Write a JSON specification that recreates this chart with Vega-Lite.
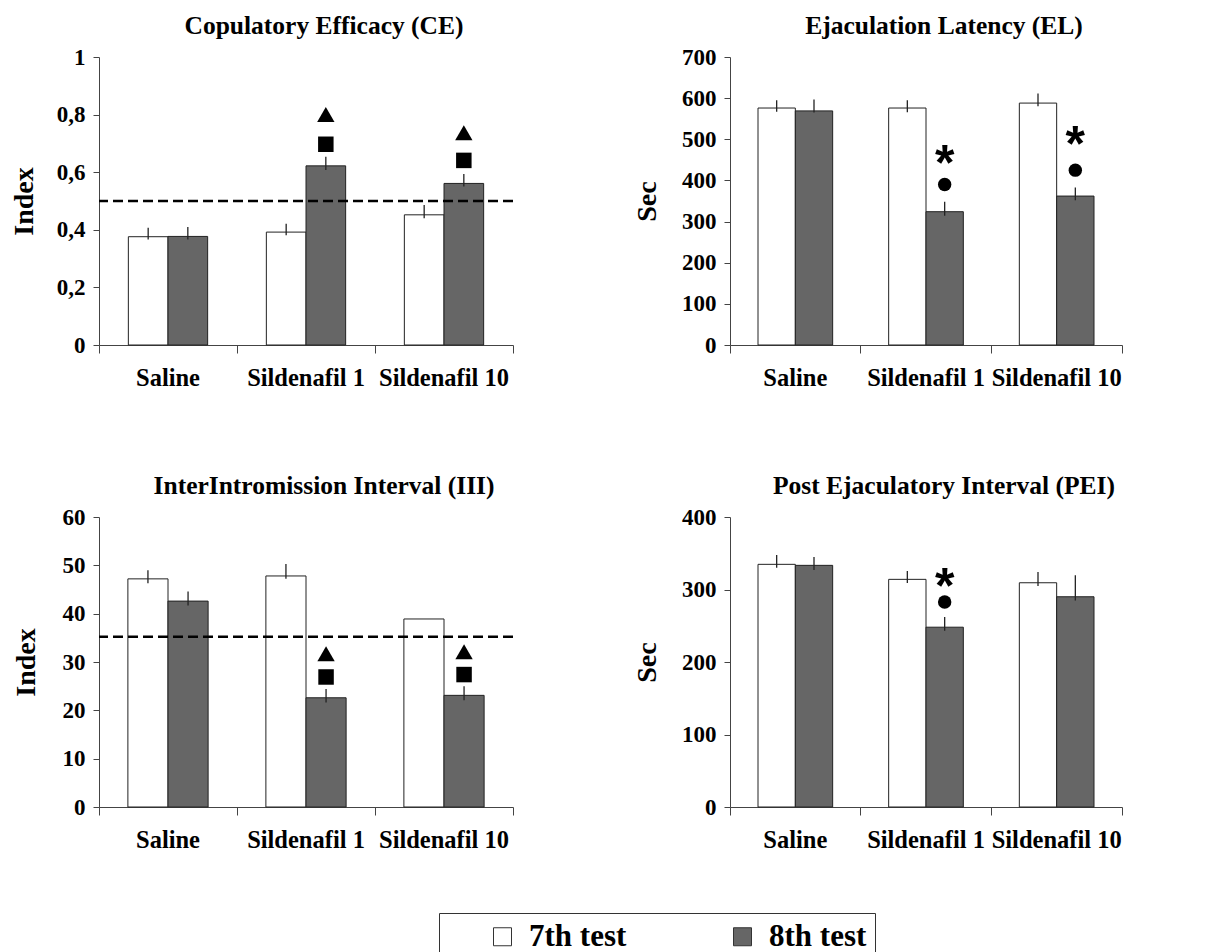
{
  "$schema": "https://vega.github.io/schema/vega-lite/v6.json",
  "padding": {"left": 10, "top": 13, "right": 5, "bottom": 0},
  "background": "white",
  "datasets": {
    "bars": [
      {"panel": "CE", "cat": "Saline", "test": "7th test", "value": 0.376, "lo": 0.366, "hi": 0.407},
      {"panel": "CE", "cat": "Saline", "test": "8th test", "value": 0.377, "lo": 0.366, "hi": 0.41},
      {"panel": "CE", "cat": "Sildenafil 1", "test": "7th test", "value": 0.392, "lo": 0.381, "hi": 0.421},
      {"panel": "CE", "cat": "Sildenafil 1", "test": "8th test", "value": 0.622, "lo": 0.608, "hi": 0.654},
      {"panel": "CE", "cat": "Sildenafil 10", "test": "7th test", "value": 0.452, "lo": 0.44, "hi": 0.486},
      {"panel": "CE", "cat": "Sildenafil 10", "test": "8th test", "value": 0.561, "lo": 0.55, "hi": 0.594},
      {"panel": "EL", "cat": "Saline", "test": "7th test", "value": 576, "lo": 567, "hi": 595},
      {"panel": "EL", "cat": "Saline", "test": "8th test", "value": 569, "lo": 565, "hi": 597},
      {"panel": "EL", "cat": "Sildenafil 1", "test": "7th test", "value": 576, "lo": 566, "hi": 595},
      {"panel": "EL", "cat": "Sildenafil 1", "test": "8th test", "value": 324, "lo": 314, "hi": 348},
      {"panel": "EL", "cat": "Sildenafil 10", "test": "7th test", "value": 588, "lo": 580, "hi": 611},
      {"panel": "EL", "cat": "Sildenafil 10", "test": "8th test", "value": 362, "lo": 352, "hi": 383},
      {"panel": "III", "cat": "Saline", "test": "7th test", "value": 47.2, "lo": 46.3, "hi": 49.0},
      {"panel": "III", "cat": "Saline", "test": "8th test", "value": 42.6, "lo": 41.7, "hi": 44.6},
      {"panel": "III", "cat": "Sildenafil 1", "test": "7th test", "value": 47.8, "lo": 47.2, "hi": 50.3},
      {"panel": "III", "cat": "Sildenafil 1", "test": "8th test", "value": 22.6, "lo": 21.6, "hi": 24.4},
      {"panel": "III", "cat": "Sildenafil 10", "test": "7th test", "value": 38.9, "lo": 38.9, "hi": 38.9},
      {"panel": "III", "cat": "Sildenafil 10", "test": "8th test", "value": 23.1, "lo": 22.1, "hi": 25.0},
      {"panel": "PEI", "cat": "Saline", "test": "7th test", "value": 334.7, "lo": 330, "hi": 347.5},
      {"panel": "PEI", "cat": "Saline", "test": "8th test", "value": 333.3, "lo": 327, "hi": 344.8},
      {"panel": "PEI", "cat": "Sildenafil 1", "test": "7th test", "value": 314, "lo": 309, "hi": 325.4},
      {"panel": "PEI", "cat": "Sildenafil 1", "test": "8th test", "value": 248, "lo": 243, "hi": 262},
      {"panel": "PEI", "cat": "Sildenafil 10", "test": "7th test", "value": 309.3, "lo": 305, "hi": 324},
      {"panel": "PEI", "cat": "Sildenafil 10", "test": "8th test", "value": 290, "lo": 285, "hi": 319.5}
    ],
    "refs": [
      {"panel": "CE", "y": 0.5},
      {"panel": "III", "y": 35.2}
    ],
    "sigs": [
      {"panel": "CE", "cat": "Sildenafil 1", "test": "8th test", "y": 0.80, "sig": "triangle"},
      {"panel": "CE", "cat": "Sildenafil 1", "test": "8th test", "y": 0.697, "sig": "square"},
      {"panel": "CE", "cat": "Sildenafil 10", "test": "8th test", "y": 0.737, "sig": "triangle"},
      {"panel": "CE", "cat": "Sildenafil 10", "test": "8th test", "y": 0.641, "sig": "square"},
      {"panel": "EL", "cat": "Sildenafil 1", "test": "8th test", "y": 470, "sig": "asterisk"},
      {"panel": "EL", "cat": "Sildenafil 1", "test": "8th test", "y": 390, "sig": "circle"},
      {"panel": "EL", "cat": "Sildenafil 10", "test": "8th test", "y": 515, "sig": "asterisk"},
      {"panel": "EL", "cat": "Sildenafil 10", "test": "8th test", "y": 425, "sig": "circle"},
      {"panel": "III", "cat": "Sildenafil 1", "test": "8th test", "y": 31.7, "sig": "triangle"},
      {"panel": "III", "cat": "Sildenafil 1", "test": "8th test", "y": 26.9, "sig": "square"},
      {"panel": "III", "cat": "Sildenafil 10", "test": "8th test", "y": 32.1, "sig": "triangle"},
      {"panel": "III", "cat": "Sildenafil 10", "test": "8th test", "y": 27.4, "sig": "square"},
      {"panel": "PEI", "cat": "Sildenafil 1", "test": "8th test", "y": 320, "sig": "asterisk"},
      {"panel": "PEI", "cat": "Sildenafil 1", "test": "8th test", "y": 282.7, "sig": "circle"}
    ]
  },
  "columns": 2,
  "spacing": {"row": 172, "column": 217},
  "bounds": "flush",
  "resolve": {"scale": {"x": "independent", "y": "independent", "xOffset": "independent"}},
  "concat": [
    {
      "width": 414, "height": 288,
      "title": {"text": "Copulatory Efficacy (CE)", "dx": 18},
      "layer": [
        {
          "data": {"name": "bars"},
          "transform": [{"filter": "datum.panel == 'CE'"}],
          "mark": {"type": "bar", "stroke": "#222", "strokeWidth": 1},
          "encoding": {
            "x": {"field": "cat", "type": "nominal", "sort": ["Saline", "Sildenafil 1", "Sildenafil 10"], "scale": {"paddingInner": 0, "paddingOuter": 0},
                  "axis": {"title": null, "labelAngle": 0, "bandPosition": 1, "tickExtra": true, "tickSize": 8, "labelPadding": 13, "labelOverlap": false, "labelBound": false, "labelFlush": false}},
            "xOffset": {"field": "test", "type": "nominal", "scale": {"paddingInner": 0, "paddingOuter": 0.74}},
            "y": {"field": "value", "type": "quantitative", "scale": {"domain": [0, 1], "nice": false},
                  "axis": {"title": "Index", "values": [0, 0.2, 0.4, 0.6, 0.8, 1], "format": ".1~f", "labelExpr": "replace(datum.label, '.', ',')", "tickSize": 6, "labelPadding": 8, "titlePadding": 18}},
            "color": {"field": "test", "type": "nominal", "scale": {"domain": ["7th test", "8th test"], "range": ["#ffffff", "#666666"]},
                      "legend": {"title": " ", "titleFontSize": 1, "titleOrient": "left", "titlePadding": 40, "orient": "none", "legendX": 340, "legendY": 856, "direction": "horizontal", "symbolType": "square", "symbolSize": 324, "symbolStrokeColor": "#333", "symbolStrokeWidth": 1, "symbolOpacity": 1, "labelFont": "Liberation Serif", "labelFontSize": 31, "labelFontWeight": "bold", "labelColor": "#000", "labelOffset": 11, "columnPadding": 100, "strokeColor": "#333", "padding": 8}}
          }
        },
        {
          "data": {"name": "bars"},
          "transform": [{"filter": "datum.panel == 'CE'"}],
          "mark": {"type": "rule", "color": "#222", "strokeWidth": 1.3},
          "encoding": {
            "x": {"field": "cat", "type": "nominal", "sort": ["Saline", "Sildenafil 1", "Sildenafil 10"]},
            "xOffset": {"field": "test", "type": "nominal"},
            "y": {"field": "lo", "type": "quantitative"},
            "y2": {"field": "hi"}
          }
        },
        {
          "data": {"name": "refs"},
          "transform": [{"filter": "datum.panel == 'CE'"}],
          "mark": {"type": "rule", "color": "#000", "strokeWidth": 2.5, "strokeDash": [10, 5]},
          "encoding": {"y": {"field": "y", "type": "quantitative"}}
        },
        {
          "data": {"name": "sigs"},
          "transform": [{"filter": "datum.panel == 'CE' && datum.sig != 'asterisk'"}],
          "mark": {"type": "point", "filled": true, "color": "#000", "opacity": 1, "strokeWidth": 0},
          "encoding": {
            "x": {"field": "cat", "type": "nominal", "sort": ["Saline", "Sildenafil 1", "Sildenafil 10"]},
            "xOffset": {"field": "test", "type": "nominal"},
            "y": {"field": "y", "type": "quantitative"},
            "shape": {"field": "sig", "type": "nominal", "scale": {"domain": ["triangle", "square", "circle"], "range": ["triangle-up", "square", "circle"]}, "legend": null},
            "size": {"field": "sig", "type": "nominal", "scale": {"domain": ["triangle", "square", "circle"], "range": [300, 180, 190]}, "legend": null}
          }
        }
      ]
    },
    {
      "width": 392, "height": 288,
      "title": {"text": "Ejaculation Latency (EL)", "dx": 18},
      "layer": [
        {
          "data": {"name": "bars"},
          "transform": [{"filter": "datum.panel == 'EL'"}],
          "mark": {"type": "bar", "stroke": "#222", "strokeWidth": 1},
          "encoding": {
            "x": {"field": "cat", "type": "nominal", "sort": ["Saline", "Sildenafil 1", "Sildenafil 10"], "scale": {"paddingInner": 0, "paddingOuter": 0},
                  "axis": {"title": null, "labelAngle": 0, "bandPosition": 1, "tickExtra": true, "tickSize": 8, "labelPadding": 13, "labelOverlap": false, "labelBound": false, "labelFlush": false}},
            "xOffset": {"field": "test", "type": "nominal", "scale": {"paddingInner": 0, "paddingOuter": 0.75}},
            "y": {"field": "value", "type": "quantitative", "scale": {"domain": [0, 700], "nice": false},
                  "axis": {"title": "Sec", "values": [0, 100, 200, 300, 400, 500, 600, 700], "tickSize": 6, "labelPadding": 8, "titlePadding": 20}},
            "color": {"field": "test", "type": "nominal", "scale": {"domain": ["7th test", "8th test"], "range": ["#ffffff", "#666666"]},
                      "legend": {"title": " ", "titleFontSize": 1, "titleOrient": "left", "titlePadding": 40, "orient": "none", "legendX": 340, "legendY": 856, "direction": "horizontal", "symbolType": "square", "symbolSize": 324, "symbolStrokeColor": "#333", "symbolStrokeWidth": 1, "symbolOpacity": 1, "labelFont": "Liberation Serif", "labelFontSize": 31, "labelFontWeight": "bold", "labelColor": "#000", "labelOffset": 11, "columnPadding": 100, "strokeColor": "#333", "padding": 8}}
          }
        },
        {
          "data": {"name": "bars"},
          "transform": [{"filter": "datum.panel == 'EL'"}],
          "mark": {"type": "rule", "color": "#222", "strokeWidth": 1.3},
          "encoding": {
            "x": {"field": "cat", "type": "nominal", "sort": ["Saline", "Sildenafil 1", "Sildenafil 10"]},
            "xOffset": {"field": "test", "type": "nominal"},
            "y": {"field": "lo", "type": "quantitative"},
            "y2": {"field": "hi"}
          }
        },
        {
          "data": {"name": "sigs"},
          "transform": [{"filter": "datum.panel == 'EL' && datum.sig != 'asterisk'"}],
          "mark": {"type": "point", "filled": true, "color": "#000", "opacity": 1, "strokeWidth": 0},
          "encoding": {
            "x": {"field": "cat", "type": "nominal", "sort": ["Saline", "Sildenafil 1", "Sildenafil 10"]},
            "xOffset": {"field": "test", "type": "nominal"},
            "y": {"field": "y", "type": "quantitative"},
            "shape": {"field": "sig", "type": "nominal", "scale": {"domain": ["triangle", "square", "circle"], "range": ["triangle-up", "square", "circle"]}, "legend": null},
            "size": {"field": "sig", "type": "nominal", "scale": {"domain": ["triangle", "square", "circle"], "range": [300, 180, 190]}, "legend": null}
          }
        },
        {
          "data": {"name": "sigs"},
          "transform": [{"filter": "datum.panel == 'EL' && datum.sig == 'asterisk'"}],
          "mark": {"type": "text", "text": "*", "font": "Liberation Sans", "fontWeight": "bold", "fontSize": 50, "baseline": "alphabetic", "dy": 28, "color": "#000"},
          "encoding": {
            "x": {"field": "cat", "type": "nominal", "sort": ["Saline", "Sildenafil 1", "Sildenafil 10"]},
            "xOffset": {"field": "test", "type": "nominal"},
            "y": {"field": "y", "type": "quantitative"}
          }
        }
      ]
    },
    {
      "width": 414, "height": 290,
      "title": {"text": "InterIntromission Interval (III)", "dx": 18},
      "layer": [
        {
          "data": {"name": "bars"},
          "transform": [{"filter": "datum.panel == 'III'"}],
          "mark": {"type": "bar", "stroke": "#222", "strokeWidth": 1},
          "encoding": {
            "x": {"field": "cat", "type": "nominal", "sort": ["Saline", "Sildenafil 1", "Sildenafil 10"], "scale": {"paddingInner": 0, "paddingOuter": 0},
                  "axis": {"title": null, "labelAngle": 0, "bandPosition": 1, "tickExtra": true, "tickSize": 8, "labelPadding": 13, "labelOverlap": false, "labelBound": false, "labelFlush": false}},
            "xOffset": {"field": "test", "type": "nominal", "scale": {"paddingInner": 0, "paddingOuter": 0.72}},
            "y": {"field": "value", "type": "quantitative", "scale": {"domain": [0, 60], "nice": false},
                  "axis": {"title": "Index", "values": [0, 10, 20, 30, 40, 50, 60], "tickSize": 6, "labelPadding": 8, "titlePadding": 22}},
            "color": {"field": "test", "type": "nominal", "scale": {"domain": ["7th test", "8th test"], "range": ["#ffffff", "#666666"]},
                      "legend": {"title": " ", "titleFontSize": 1, "titleOrient": "left", "titlePadding": 40, "orient": "none", "legendX": 340, "legendY": 856, "direction": "horizontal", "symbolType": "square", "symbolSize": 324, "symbolStrokeColor": "#333", "symbolStrokeWidth": 1, "symbolOpacity": 1, "labelFont": "Liberation Serif", "labelFontSize": 31, "labelFontWeight": "bold", "labelColor": "#000", "labelOffset": 11, "columnPadding": 100, "strokeColor": "#333", "padding": 8}}
          }
        },
        {
          "data": {"name": "bars"},
          "transform": [{"filter": "datum.panel == 'III'"}],
          "mark": {"type": "rule", "color": "#222", "strokeWidth": 1.3},
          "encoding": {
            "x": {"field": "cat", "type": "nominal", "sort": ["Saline", "Sildenafil 1", "Sildenafil 10"]},
            "xOffset": {"field": "test", "type": "nominal"},
            "y": {"field": "lo", "type": "quantitative"},
            "y2": {"field": "hi"}
          }
        },
        {
          "data": {"name": "refs"},
          "transform": [{"filter": "datum.panel == 'III'"}],
          "mark": {"type": "rule", "color": "#000", "strokeWidth": 2.5, "strokeDash": [10, 5]},
          "encoding": {"y": {"field": "y", "type": "quantitative"}}
        },
        {
          "data": {"name": "sigs"},
          "transform": [{"filter": "datum.panel == 'III' && datum.sig != 'asterisk'"}],
          "mark": {"type": "point", "filled": true, "color": "#000", "opacity": 1, "strokeWidth": 0},
          "encoding": {
            "x": {"field": "cat", "type": "nominal", "sort": ["Saline", "Sildenafil 1", "Sildenafil 10"]},
            "xOffset": {"field": "test", "type": "nominal"},
            "y": {"field": "y", "type": "quantitative"},
            "shape": {"field": "sig", "type": "nominal", "scale": {"domain": ["triangle", "square", "circle"], "range": ["triangle-up", "square", "circle"]}, "legend": null},
            "size": {"field": "sig", "type": "nominal", "scale": {"domain": ["triangle", "square", "circle"], "range": [300, 180, 190]}, "legend": null}
          }
        }
      ]
    },
    {
      "width": 392, "height": 290,
      "title": {"text": "Post Ejaculatory Interval (PEI)", "dx": 18},
      "layer": [
        {
          "data": {"name": "bars"},
          "transform": [{"filter": "datum.panel == 'PEI'"}],
          "mark": {"type": "bar", "stroke": "#222", "strokeWidth": 1},
          "encoding": {
            "x": {"field": "cat", "type": "nominal", "sort": ["Saline", "Sildenafil 1", "Sildenafil 10"], "scale": {"paddingInner": 0, "paddingOuter": 0},
                  "axis": {"title": null, "labelAngle": 0, "bandPosition": 1, "tickExtra": true, "tickSize": 8, "labelPadding": 13, "labelOverlap": false, "labelBound": false, "labelFlush": false}},
            "xOffset": {"field": "test", "type": "nominal", "scale": {"paddingInner": 0, "paddingOuter": 0.75}},
            "y": {"field": "value", "type": "quantitative", "scale": {"domain": [0, 400], "nice": false},
                  "axis": {"title": "Sec", "values": [0, 100, 200, 300, 400], "tickSize": 6, "labelPadding": 8, "titlePadding": 20}},
            "color": {"field": "test", "type": "nominal", "scale": {"domain": ["7th test", "8th test"], "range": ["#ffffff", "#666666"]},
                      "legend": {"title": " ", "titleFontSize": 1, "titleOrient": "left", "titlePadding": 40, "orient": "none", "legendX": 340, "legendY": 856, "direction": "horizontal", "symbolType": "square", "symbolSize": 324, "symbolStrokeColor": "#333", "symbolStrokeWidth": 1, "symbolOpacity": 1, "labelFont": "Liberation Serif", "labelFontSize": 31, "labelFontWeight": "bold", "labelColor": "#000", "labelOffset": 11, "columnPadding": 100, "strokeColor": "#333", "padding": 8}}
          }
        },
        {
          "data": {"name": "bars"},
          "transform": [{"filter": "datum.panel == 'PEI'"}],
          "mark": {"type": "rule", "color": "#222", "strokeWidth": 1.3},
          "encoding": {
            "x": {"field": "cat", "type": "nominal", "sort": ["Saline", "Sildenafil 1", "Sildenafil 10"]},
            "xOffset": {"field": "test", "type": "nominal"},
            "y": {"field": "lo", "type": "quantitative"},
            "y2": {"field": "hi"}
          }
        },
        {
          "data": {"name": "sigs"},
          "transform": [{"filter": "datum.panel == 'PEI' && datum.sig != 'asterisk'"}],
          "mark": {"type": "point", "filled": true, "color": "#000", "opacity": 1, "strokeWidth": 0},
          "encoding": {
            "x": {"field": "cat", "type": "nominal", "sort": ["Saline", "Sildenafil 1", "Sildenafil 10"]},
            "xOffset": {"field": "test", "type": "nominal"},
            "y": {"field": "y", "type": "quantitative"},
            "shape": {"field": "sig", "type": "nominal", "scale": {"domain": ["triangle", "square", "circle"], "range": ["triangle-up", "square", "circle"]}, "legend": null},
            "size": {"field": "sig", "type": "nominal", "scale": {"domain": ["triangle", "square", "circle"], "range": [300, 180, 190]}, "legend": null}
          }
        },
        {
          "data": {"name": "sigs"},
          "transform": [{"filter": "datum.panel == 'PEI' && datum.sig == 'asterisk'"}],
          "mark": {"type": "text", "text": "*", "font": "Liberation Sans", "fontWeight": "bold", "fontSize": 50, "baseline": "alphabetic", "dy": 28, "color": "#000"},
          "encoding": {
            "x": {"field": "cat", "type": "nominal", "sort": ["Saline", "Sildenafil 1", "Sildenafil 10"]},
            "xOffset": {"field": "test", "type": "nominal"},
            "y": {"field": "y", "type": "quantitative"}
          }
        }
      ]
    }
  ],
  "config": {
    "font": "Liberation Serif",
    "view": {"stroke": null},
    "axis": {"labelFont": "Liberation Serif", "labelFontWeight": "bold", "labelColor": "#000", "titleFont": "Liberation Serif", "titleFontSize": 28, "titleFontWeight": "bold", "titleColor": "#000", "domainColor": "#444", "tickColor": "#444", "grid": false},
    "axisX": {"labelFontSize": 24.5},
    "axisY": {"labelFontSize": 23},
    "legend": {"labelFont": "Liberation Serif", "labelFontSize": 31, "labelFontWeight": "bold", "labelColor": "#000", "titleFont": "Liberation Serif"},
    "title": {"font": "Liberation Serif", "fontSize": 25.5, "fontWeight": "bold", "color": "#000", "frame": "group", "offset": 7}
  }
}
